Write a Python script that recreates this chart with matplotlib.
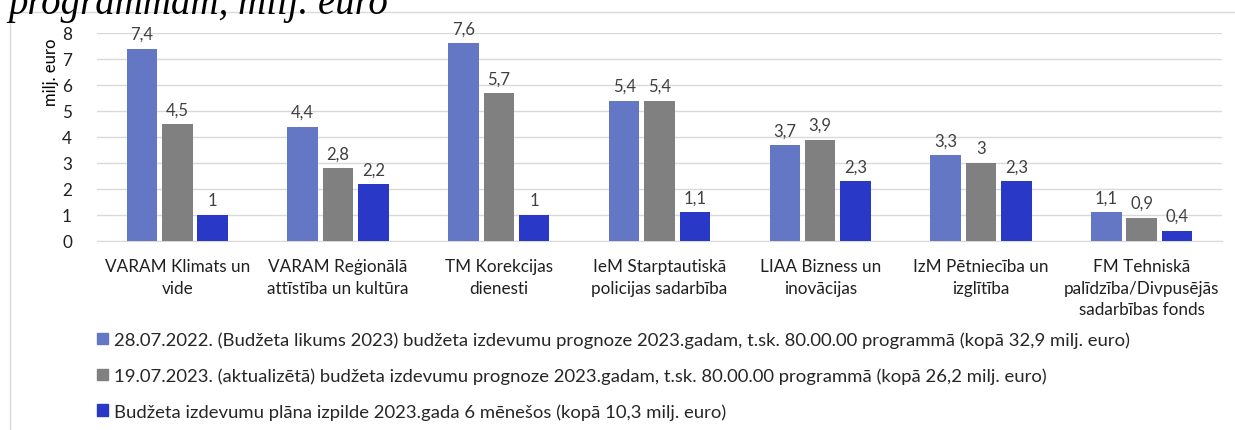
import matplotlib.pyplot as plt
import numpy as np
from matplotlib.lines import Line2D
from matplotlib.patches import Patch

plt.rcParams['font.family'] = ['Lato', 'DejaVu Sans']

categories = ['VARAM Klimats un\nvide', 'VARAM Reģionālā\nattīstība un kultūra',
              'TM Korekcijas\ndienesti', 'IeM Starptautiskā\npolicijas sadarbība',
              'LIAA Bizness un\ninovācijas', 'IzM Pētniecība un\nizglītība',
              'FM Tehniskā\npalīdzība/Divpusējās\nsadarbības fonds']
plan_2022 = [7.4, 4.4, 7.6, 5.4, 3.7, 3.3, 1.1]
plan_2023 = [4.5, 2.8, 5.7, 5.4, 3.9, 3.0, 0.9]
izpilde = [1.0, 2.2, 1.0, 1.1, 2.3, 2.3, 0.4]
series_labels = ['28.07.2022. (Budžeta likums 2023) budžeta izdevumu prognoze 2023.gadam, t.sk. 80.00.00 programmā (kopā 32,9 milj. euro)',
                 '19.07.2023. (aktualizētā) budžeta izdevumu prognoze 2023.gadam, t.sk. 80.00.00 programmā (kopā 26,2 milj. euro)',
                 'Budžeta izdevumu plāna izpilde 2023.gada 6 mēnešos (kopā 10,3 milj. euro)']
colors = ['#6377C4', '#808080', '#2A38C8']

fig = plt.figure(figsize=(12.35, 4.31), dpi=100)
ax = fig.add_axes([97/1235, 1-242/431, 1125/1235, 208/431])

x = np.arange(len(categories))
w = 0.19
step = 0.22
for i, (vals, c) in enumerate(zip([plan_2022, plan_2023, izpilde], colors)):
    pos = x + (i - 1) * step
    ax.bar(pos, vals, width=w, color=c, zorder=3)
    for p, v in zip(pos, vals):
        lab = ('%g' % v).replace('.', ',')
        ax.text(p, v + 0.25, lab, ha='center', va='bottom', fontsize=12, color='#404040')

ax.set_ylim(0, 8)
ax.set_xlim(-0.5, len(categories) - 0.5)
ax.set_yticks(range(0, 9))
ax.yaxis.grid(True, color='#D9D9D9', linewidth=1, zorder=0)
for s in ['top', 'right', 'left']:
    ax.spines[s].set_visible(False)
ax.spines['bottom'].set_color('#D9D9D9')
ax.tick_params(axis='both', length=0, labelsize=12.3, colors='#202020')
ax.tick_params(axis='x', pad=12)
ax.tick_params(axis='y', pad=18)
ax.set_xticks(x)
ax.set_xticklabels(categories, linespacing=1.45)
ax.text(-0.041, 0.98, 'milj. euro', transform=ax.transAxes, rotation=90,
        ha='center', va='top', fontsize=12)

# outer chart frame
fig.add_artist(Line2D([10/1235, 10/1235], [0, 1-13/431], transform=fig.transFigure, color='#D9D9D9', lw=1))
fig.add_artist(Line2D([10/1235, 1], [1-13/431, 1-13/431], transform=fig.transFigure, color='#D9D9D9', lw=1))

# cut-off title from the page
fig.text(8/1235, 1-14/431, 'programmām, milj. euro', family='Liberation Serif', style='italic',
         fontsize=28, va='baseline', ha='left')

handles = [Patch(color=c) for c in colors]
leg = fig.legend(handles, series_labels, loc='upper left', bbox_to_anchor=(90/1235, 1-325/431),
                 frameon=False, fontsize=13.3, handlelength=0.6, handleheight=0.6,
                 handletextpad=0.3, labelspacing=1.05, borderaxespad=0)
for t in leg.get_texts():
    t.set_color('#262626')

fig.savefig('out.png', dpi=100)
